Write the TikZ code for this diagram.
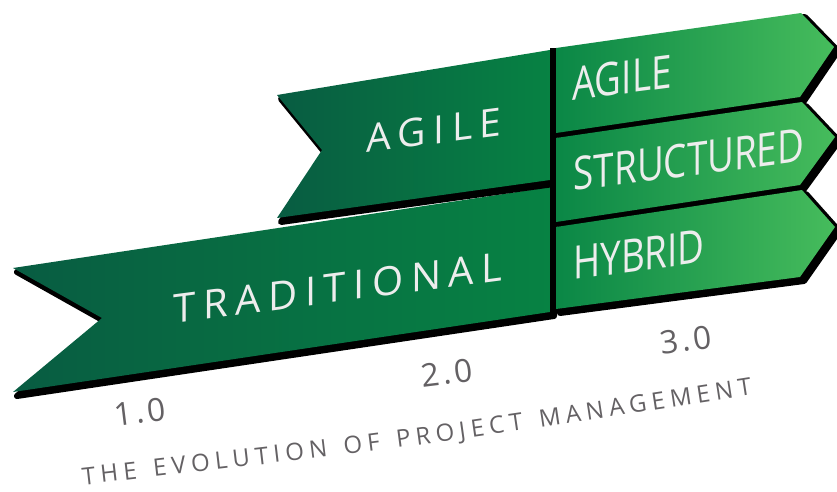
\documentclass[tikz,border=0pt]{standalone}
\usepackage{fontspec}
\setmainfont{Open Sans}
\usetikzlibrary{decorations.text}
\definecolor{dkA}{RGB}{8,92,66}
\definecolor{dkB}{RGB}{7,130,67}
\definecolor{ltA}{RGB}{10,135,70}
\definecolor{ltB}{RGB}{70,188,92}
\definecolor{txtwhite}{RGB}{237,237,237}
\definecolor{txtgray}{RGB}{100,97,100}
\def\tradpath{(13,223)--(102,173)--(13,99)--(550,179)--(550,304)--cycle}
\def\agiletwopath{(277,396)--(322,341)--(277,273)--(550,311)--(550,441)--cycle}
\def\agilethreepath{(556,443)--(801,478)--(834,444)--(800,394)--(556,358)--cycle}
\def\structpath{(556,353)--(802,389)--(835,354)--(800,306)--(556,269)--cycle}
\def\hybridpath{(556,264)--(802,301)--(835,264)--(800,214)--(556,182)--cycle}
\tikzset{
  shadowsty/.style={fill=black, draw=black, line width=6pt, line join=round, shift={(4,-4)}},
  darkrib/.style={left color=dkA, right color=dkB, draw=none},
  lightrib/.style={left color=ltA, right color=ltB, draw=none},
  ribtext/.style={anchor=base, text=txtwhite, inner sep=0pt, yslant=0.13},
  numtext/.style={anchor=base, text=txtgray, inner sep=0pt, rotate=7,
    font=\fontsize{32}{32}\selectfont\addfontfeature{LetterSpace=10}}
}
\begin{document}
\begin{tikzpicture}[x=1pt,y=1pt]
\useasboundingbox (0,0) rectangle (837,491);
% 2.0 level
\fill[shadowsty] \tradpath;
\shade[darkrib] \tradpath;
\fill[shadowsty] \agiletwopath;
\shade[darkrib] \agiletwopath;
% divider
\fill[black] (550,173) rectangle (556,443);
% 3.0 level
\fill[shadowsty] \agilethreepath;
\shade[lightrib] \agilethreepath;
\fill[shadowsty] \structpath;
\shade[lightrib] \structpath;
\fill[shadowsty] \hybridpath;
\shade[lightrib] \hybridpath;
% ribbon texts
\node[ribtext, font=\fontsize{40}{40}\selectfont\addfontfeature{LetterSpace=19}] (trad) at (338,189) {TRADITIONAL};
\node[ribtext, font=\fontsize{39}{39}\selectfont\addfontfeature{LetterSpace=19}] (agtwo) at (434,347) {AGILE};
\node[ribtext, xscale=0.8, font=\fontsize{46}{46}\selectfont] (agthree) at (622,397) {AGILE};
\node[ribtext, xscale=0.8, font=\fontsize{46}{46}\selectfont] (struct) at (689,315) {STRUCTURED};
\node[ribtext, xscale=0.8, font=\fontsize{46}{46}\selectfont] (hybrid) at (639,220) {HYBRID};
% version numbers
\node[numtext] (vone) at (141,68) {1.0};
\node[numtext] (vtwo) at (448,107) {2.0};
\node[numtext] (vthree) at (687,140) {3.0};
% caption
\path[decorate, decoration={text along path, text align={fit to path},
  text={|\color{txtgray}\fontsize{24}{24}\selectfont|THE EVOLUTION OF PROJECT MANAGEMENT}}]
  (83,6) .. controls (416,44) .. (752,96);
\end{tikzpicture}
\end{document}
